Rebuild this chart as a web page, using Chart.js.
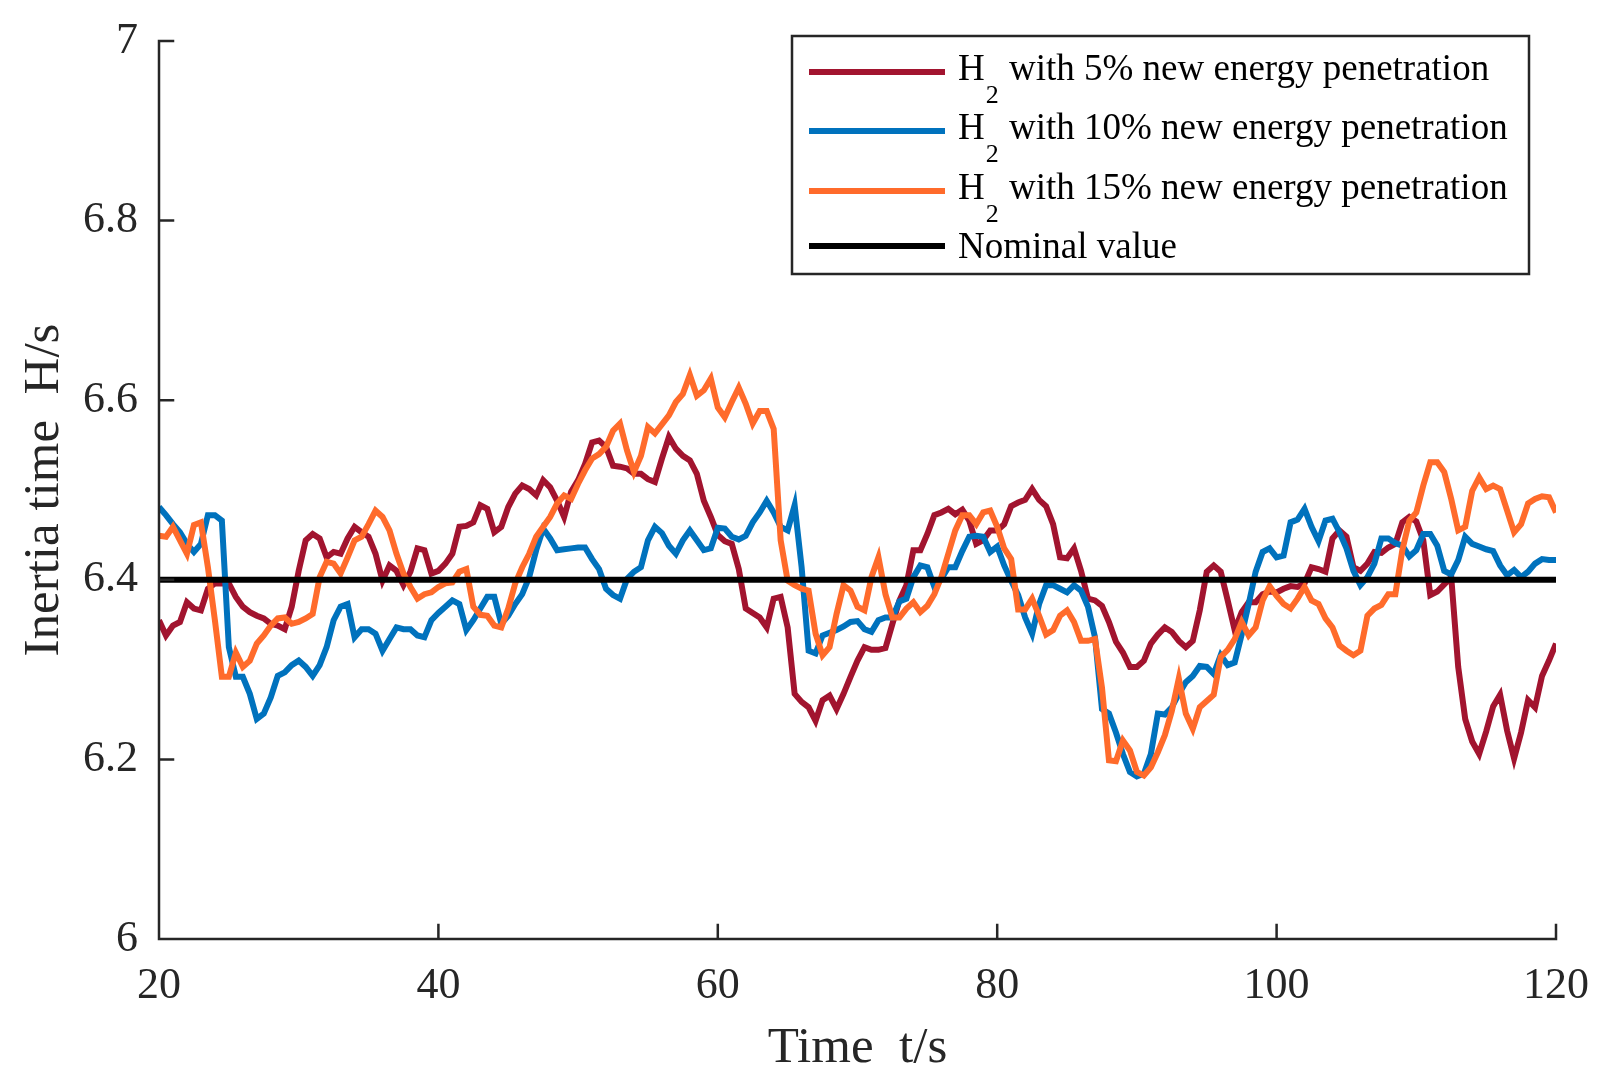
<!DOCTYPE html>
<html>
<head>
<meta charset="utf-8">
<script src="https://cdn.jsdelivr.net/npm/chart.js@4.4.1/dist/chart.umd.min.js"></script>
<style>
  html, body { margin: 0; padding: 0; background: #fff; }
  #wrap { width: 1610px; height: 1090px; }
</style>
</head>
<body>
<div id="wrap"><canvas id="inertiaChart"></canvas></div>
<script>
// time axis, one sample every 0.5 s from 20 s to 120 s
const time = [];
for (let i = 0; i < 201; i++) time.push(20 + i * 0.5);

// H2 with 5% new energy penetration
const h2Pen5 = [
  6.355, 6.338, 6.349, 6.353, 6.375, 6.368, 6.366, 6.390, 6.396, 6.396,
  6.396, 6.381, 6.370, 6.364, 6.360, 6.357, 6.351, 6.349, 6.345, 6.370,
  6.410, 6.444, 6.451, 6.446, 6.425, 6.431, 6.429, 6.446, 6.459, 6.453,
  6.448, 6.429, 6.399, 6.416, 6.410, 6.394, 6.409, 6.435, 6.433, 6.407,
  6.410, 6.418, 6.429, 6.459, 6.460, 6.464, 6.483, 6.479, 6.453, 6.459,
  6.481, 6.496, 6.505, 6.501, 6.494, 6.511, 6.503, 6.488, 6.470, 6.498,
  6.511, 6.529, 6.553, 6.555, 6.548, 6.527, 6.526, 6.524, 6.518, 6.518,
  6.512, 6.509, 6.535, 6.559, 6.546, 6.538, 6.533, 6.518, 6.488, 6.470,
  6.450, 6.443, 6.440, 6.412, 6.368, 6.363, 6.358, 6.347, 6.379, 6.381,
  6.347, 6.273, 6.264, 6.258, 6.243, 6.266, 6.271, 6.256, 6.273, 6.292,
  6.310, 6.325, 6.322, 6.322, 6.324, 6.351, 6.377, 6.394, 6.433, 6.433,
  6.451, 6.472, 6.475, 6.479, 6.473, 6.478, 6.466, 6.440, 6.444, 6.455,
  6.455, 6.462, 6.482, 6.486, 6.489, 6.501, 6.489, 6.482, 6.462, 6.425,
  6.424, 6.435, 6.410, 6.379, 6.377, 6.371, 6.353, 6.331, 6.319, 6.303,
  6.303, 6.310, 6.329, 6.339, 6.347, 6.342, 6.332, 6.325, 6.332, 6.366,
  6.409, 6.416, 6.409, 6.377, 6.344, 6.364, 6.375, 6.375, 6.384, 6.387,
  6.386, 6.390, 6.393, 6.392, 6.396, 6.414, 6.412, 6.409, 6.446, 6.455,
  6.448, 6.414, 6.410, 6.418, 6.431, 6.430, 6.436, 6.440, 6.464, 6.470,
  6.465, 6.444, 6.383, 6.387, 6.395, 6.403, 6.303, 6.245, 6.220, 6.206,
  6.231, 6.259, 6.272, 6.232, 6.201, 6.230, 6.266, 6.258, 6.293, 6.310,
  6.329
];

// H2 with 10% new energy penetration
const h2Pen10 = [
  6.481, 6.472, 6.462, 6.453, 6.440, 6.431, 6.440, 6.472, 6.472, 6.466,
  6.325, 6.292, 6.292, 6.273, 6.245, 6.251, 6.269, 6.293, 6.297, 6.305,
  6.310, 6.303, 6.293, 6.305, 6.325, 6.355, 6.370, 6.373, 6.336, 6.345,
  6.345, 6.340, 6.321, 6.334, 6.347, 6.345, 6.345, 6.338, 6.336, 6.355,
  6.363, 6.370, 6.377, 6.373, 6.344, 6.355, 6.368, 6.381, 6.381, 6.351,
  6.360, 6.373, 6.384, 6.403, 6.433, 6.457, 6.446, 6.433, 6.434, 6.435,
  6.436, 6.436, 6.423, 6.412, 6.390, 6.383, 6.379, 6.401, 6.409, 6.414,
  6.444, 6.459, 6.452, 6.438, 6.429, 6.444, 6.455, 6.444, 6.433, 6.435,
  6.458, 6.457, 6.448, 6.445, 6.449, 6.464, 6.475, 6.488, 6.475, 6.459,
  6.455, 6.483, 6.414, 6.321, 6.318, 6.338, 6.341, 6.344, 6.348, 6.353,
  6.354, 6.345, 6.342, 6.355, 6.358, 6.358, 6.376, 6.379, 6.403, 6.416,
  6.414, 6.392, 6.401, 6.414, 6.414, 6.432, 6.448, 6.449, 6.448, 6.431,
  6.437, 6.416, 6.399, 6.383, 6.358, 6.340, 6.373, 6.394, 6.394, 6.390,
  6.386, 6.394, 6.388, 6.370, 6.336, 6.256, 6.251, 6.230, 6.206, 6.186,
  6.181, 6.184, 6.206, 6.251, 6.250, 6.258, 6.273, 6.286, 6.293, 6.304,
  6.303, 6.295, 6.316, 6.305, 6.308, 6.339, 6.373, 6.409, 6.431, 6.435,
  6.425, 6.427, 6.464, 6.467, 6.479, 6.459, 6.443, 6.466, 6.468, 6.453,
  6.435, 6.410, 6.394, 6.403, 6.418, 6.446, 6.446, 6.441, 6.438, 6.426,
  6.433, 6.451, 6.451, 6.438, 6.410, 6.406, 6.422, 6.448, 6.440, 6.437,
  6.434, 6.432, 6.416, 6.405, 6.411, 6.403, 6.409, 6.418, 6.423, 6.422,
  6.422
];

// H2 with 15% new energy penetration
const h2Pen15 = [
  6.449, 6.448, 6.459, 6.444, 6.429, 6.461, 6.464, 6.414, 6.355, 6.292,
  6.292, 6.319, 6.303, 6.310, 6.329, 6.338, 6.349, 6.357, 6.358, 6.351,
  6.353, 6.357, 6.362, 6.403, 6.420, 6.418, 6.407, 6.425, 6.444, 6.448,
  6.462, 6.477, 6.470, 6.455, 6.429, 6.407, 6.392, 6.379, 6.384, 6.386,
  6.392, 6.396, 6.397, 6.409, 6.412, 6.370, 6.361, 6.360, 6.349, 6.347,
  6.368, 6.396, 6.414, 6.429, 6.448, 6.459, 6.470, 6.485, 6.494, 6.490,
  6.507, 6.522, 6.535, 6.540, 6.548, 6.566, 6.574, 6.544, 6.520, 6.538,
  6.570, 6.563, 6.573, 6.583, 6.598, 6.607, 6.628, 6.605, 6.611, 6.624,
  6.592, 6.581, 6.598, 6.614, 6.596, 6.574, 6.588, 6.588, 6.568, 6.444,
  6.399, 6.394, 6.390, 6.388, 6.340, 6.316, 6.325, 6.362, 6.394, 6.388,
  6.370, 6.366, 6.403, 6.425, 6.384, 6.358, 6.358, 6.368, 6.375, 6.364,
  6.371, 6.384, 6.403, 6.429, 6.455, 6.472, 6.472, 6.462, 6.475, 6.477,
  6.459, 6.435, 6.423, 6.367, 6.367, 6.379, 6.360, 6.339, 6.344, 6.360,
  6.366, 6.353, 6.332, 6.332, 6.334, 6.280, 6.199, 6.198, 6.221, 6.210,
  6.186, 6.182, 6.191, 6.208, 6.227, 6.254, 6.290, 6.251, 6.234, 6.258,
  6.265, 6.272, 6.314, 6.322, 6.334, 6.353, 6.338, 6.347, 6.377, 6.393,
  6.382, 6.373, 6.368, 6.379, 6.392, 6.377, 6.373, 6.357, 6.347, 6.327,
  6.321, 6.316, 6.321, 6.360, 6.368, 6.372, 6.384, 6.384, 6.433, 6.466,
  6.475, 6.505, 6.531, 6.531, 6.520, 6.490, 6.455, 6.459, 6.499, 6.514,
  6.501, 6.505, 6.501, 6.477, 6.453, 6.462, 6.485, 6.490, 6.493, 6.492,
  6.475
];

const nominalValue = 6.4;

const seriesLabels = [
  'H₂ with 5% new energy penetration',
  'H₂ with 10% new energy penetration',
  'H₂ with 15% new energy penetration',
  'Nominal value'
];
const seriesColors = ['#A2142F', '#0072BD', '#FF6B2B', '#000000'];

const xTicks = [20, 40, 60, 80, 100, 120];
const yTicks = [6, 6.2, 6.4, 6.6, 6.8, 7];

const axisColor = '#262626';
const serif = '"Liberation Serif", "Times New Roman", serif';

function toPoints(values) {
  return values.map((v, i) => ({ x: time[i], y: v }));
}

// axis lines and inward tick marks, drawn over the data like MATLAB does
const inwardTicks = {
  id: 'inwardTicks',
  afterDatasetsDraw(chart) {
    const { ctx, chartArea: a, scales: { x, y } } = chart;
    ctx.save();
    ctx.strokeStyle = axisColor;
    ctx.lineWidth = 2.5;
    ctx.lineCap = 'square';
    ctx.beginPath();
    ctx.moveTo(a.left, a.top);
    ctx.lineTo(a.left, a.bottom);
    ctx.lineTo(a.right, a.bottom);
    yTicks.forEach(v => {
      const py = y.getPixelForValue(v);
      ctx.moveTo(a.left, py);
      ctx.lineTo(a.left + 14, py);
    });
    xTicks.forEach(v => {
      const px = x.getPixelForValue(v);
      ctx.moveTo(px, a.bottom);
      ctx.lineTo(px, a.bottom - 14);
    });
    ctx.stroke();
    ctx.restore();
  }
};

// boxed legend with a real subscript on H2
const boxLegend = {
  id: 'boxLegend',
  afterDraw(chart) {
    const ctx = chart.ctx;
    const box = { x: 792, y: 36, w: 737, h: 238 };
    const rowY = [72, 131, 191, 246];
    ctx.save();
    ctx.fillStyle = '#ffffff';
    ctx.fillRect(box.x, box.y, box.w, box.h);
    ctx.strokeStyle = axisColor;
    ctx.lineWidth = 2.5;
    ctx.strokeRect(box.x, box.y, box.w, box.h);

    chart.data.datasets.forEach((ds, i) => {
      const ly = rowY[i];
      ctx.strokeStyle = ds.borderColor;
      ctx.lineWidth = 6;
      ctx.beginPath();
      ctx.moveTo(809, ly);
      ctx.lineTo(945, ly);
      ctx.stroke();

      ctx.fillStyle = '#000000';
      ctx.textBaseline = 'alphabetic';
      ctx.textAlign = 'left';
      const label = ds.label;
      if (label.startsWith('H₂')) {
        ctx.font = '37px ' + serif;
        ctx.fillText('H', 958, ly + 8);
        const hw = ctx.measureText('H').width;
        ctx.font = '26px ' + serif;
        ctx.fillText('2', 958 + hw + 1, ly + 31);
        const sw = ctx.measureText('2').width;
        ctx.font = '37px ' + serif;
        ctx.fillText(label.slice(2), 958 + hw + sw + 2, ly + 8);
      } else {
        ctx.font = '37px ' + serif;
        ctx.fillText(label, 958, ly + 12);
      }
    });
    ctx.restore();
  }
};

const data = {
  datasets: [
    { label: seriesLabels[0], data: toPoints(h2Pen5), borderColor: seriesColors[0], order: 4 },
    { label: seriesLabels[1], data: toPoints(h2Pen10), borderColor: seriesColors[1], order: 3 },
    { label: seriesLabels[2], data: toPoints(h2Pen15), borderColor: seriesColors[2], order: 2 },
    {
      label: seriesLabels[3],
      data: [{ x: time[0], y: nominalValue }, { x: time[time.length - 1], y: nominalValue }],
      borderColor: seriesColors[3], borderWidth: 6, order: 1
    }
  ]
};

const config = {
  type: 'line',
  data: data,
  options: {
    responsive: true,
    maintainAspectRatio: false,
    animation: false,
    layout: { padding: { left: 0, top: 41, right: 50, bottom: 0 } },
    elements: {
      line: { borderWidth: 6, tension: 0, fill: false },
      point: { radius: 0, hoverRadius: 0 }
    },
    plugins: {
      legend: { display: false },
      tooltip: { enabled: false }
    },
    scales: {
      x: {
        type: 'linear',
        min: 20,
        max: 120,
        afterFit: s => { s.height = 151; },
        afterBuildTicks: s => { s.ticks = xTicks.map(v => ({ value: v })); },
        grid: { display: false, drawTicks: false },
        border: { display: false },
        ticks: {
          padding: 21,
          color: axisColor,
          font: { family: serif, size: 44 },
          maxRotation: 0
        },
        title: {
          display: true,
          text: 'Time  t/s',
          color: axisColor,
          font: { family: serif, size: 51 },
          padding: { top: 0, bottom: 11 }
        }
      },
      y: {
        min: 6,
        max: 7,
        afterFit: s => { s.width = 159; },
        afterBuildTicks: s => { s.ticks = yTicks.map(v => ({ value: v })); },
        grid: { display: false, drawTicks: false },
        border: { display: false },
        ticks: {
          padding: 21,
          color: axisColor,
          font: { family: serif, size: 44, lineHeight: 0.9 },
          callback: v => String(v)
        },
        title: {
          display: true,
          text: 'Inertia time  H/s',
          color: axisColor,
          font: { family: serif, size: 51 },
          padding: { top: 14, bottom: 0 }
        }
      }
    }
  },
  plugins: [inwardTicks, boxLegend]
};

new Chart(document.getElementById('inertiaChart'), config);
</script>
</body>
</html>
